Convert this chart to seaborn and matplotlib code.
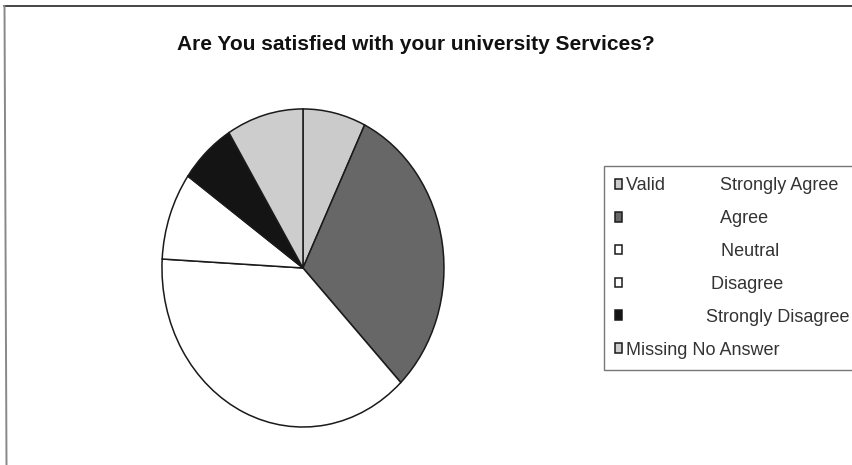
import matplotlib
matplotlib.use("Agg")
import matplotlib.pyplot as plt
from matplotlib.lines import Line2D
import seaborn as sns

# Survey responses (percent of respondents)
groups = ["Valid", "", "", "", "", "Missing"]
categories = ["Strongly Agree", "Agree", "Neutral", "Disagree",
              "Strongly Disagree", "No Answer"]
percent = [7.2, 30.6, 38.1, 8.9, 6.4, 8.8]
title = "Are You satisfied with your university Services?"

sns.set_style("white")
plt.rcParams["font.family"] = ["Liberation Sans", "DejaVu Sans"]

colors = ["#cbcbcb", "#676767", "#ffffff", "#ffffff", "#141414", "#cdcdcd"]

fig = plt.figure(figsize=(8.52, 4.65), dpi=100)
fig.patch.set_facecolor("white")

# Elliptical pie: axes taller than wide, aspect left free
ax = fig.add_axes([0.1901, 0.0817, 0.331, 0.684])
wedges, _ = ax.pie(percent, colors=colors, startangle=90, counterclock=False,
                   wedgeprops=dict(edgecolor="#1a1a1a", linewidth=1.1))
ax.set_aspect("auto")
ax.set_xlim(-1.0, 1.0)
ax.set_ylim(-1.0, 1.0)
ax.axis("off")

# Legend labels: group name followed by the response category
pads = [11, 19, 19, 17, 16, 0]
labels = []
for g, c, p in zip(groups, categories, pads):
    if g == "Missing":
        labels.append(f"{g} {c}")
    else:
        labels.append(g + " " * p + c)

leg = fig.legend(wedges, labels, loc="upper left",
                 bbox_to_anchor=(604 / 852, 1 - 166 / 465),
                 frameon=True, fancybox=False, fontsize=13,
                 handlelength=0.4, handleheight=0.45, handletextpad=0.2,
                 labelspacing=0.88, borderpad=0.62, borderaxespad=0.0)
leg.get_frame().set_edgecolor("#555555")
leg.get_frame().set_linewidth(1.0)
for t in leg.get_texts():
    t.set_color("#333333")

fig.text(416 / 852, 1 - 45 / 465, title, ha="center", va="center",
         fontsize=15, fontweight="bold", color="#111111")

# Chart area border (top and left edges)
fig.add_artist(Line2D([4 / 852, 1.0], [1 - 6 / 465, 1 - 6 / 465],
                      color="#444444", linewidth=1.4))
fig.add_artist(Line2D([4.5 / 852, 6.5 / 852], [1 - 6 / 465, 0.0],
                      color="#888888", linewidth=1.4))

fig.savefig("out.png", dpi=100)
